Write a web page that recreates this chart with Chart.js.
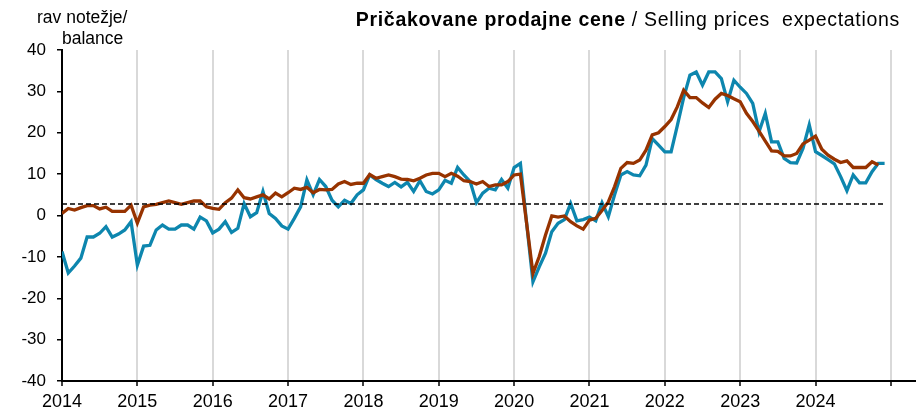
<!DOCTYPE html>
<html>
<head>
<meta charset="utf-8">
<script src="https://cdn.jsdelivr.net/npm/chart.js@4.4.1/dist/chart.umd.min.js"></script>
<style>
  body { margin: 0; background: #fff; font-family: "Liberation Sans", Arial, sans-serif; }
  #wrap { position: relative; width: 916px; height: 411px; }
  #title { position: absolute; right: 16px; top: 8px; font-size: 19.5px; letter-spacing: 0.7px; color: #000; white-space: pre; }
  .unit { position: absolute; font-size: 17.5px; line-height: 20px; color: #000; white-space: pre; }
</style>
</head>
<body>
<div id="wrap">
  <canvas id="myChart"></canvas>
  <div class="unit" style="left:37px; top:7px;">rav notežje/</div>
  <div class="unit" style="left:62px; top:28px;">balance</div>
  <div id="title"><b>Pričakovane prodajne cene</b> / Selling prices  expectations</div>
</div>
<script>
// months from Jan 2014, one value per month
const firstYear = 2014;
const yearTicks = [0, 12, 24, 36, 48, 60, 72, 84, 96, 108, 120, 132];
const yTicks = [-40, -30, -20, -10, 0, 10, 20, 30, 40];

// blue series (Jan 2014 - Dec 2024)
const blueSeries = [
  -8.7, -13.9, -12.2, -10.3, -5.2, -5.2, -4.3, -2.7, -5.2, -4.5, -3.5, -1.5,
  -12.0, -7.4, -7.2, -3.5, -2.3, -3.3, -3.3, -2.3, -2.3, -3.3, -0.4, -1.3,
  -4.2, -3.3, -1.5, -4.1, -3.1, 2.9, -0.3, 0.7, 5.8, 0.5, -0.7, -2.5,
  -3.3, -0.7, 2.1, 8.6, 5.0, 8.7, 7.0, 3.7, 2.1, 3.7, 2.9, 5.0,
  6.2, 9.8, 8.7, 7.8, 7.0, 8.0, 6.9, 8.0, 5.8, 8.4, 5.8, 5.2,
  6.2, 8.5, 7.8, 11.6, 9.8, 8.2, 3.1, 5.4, 6.6, 6.2, 8.7, 6.6,
  11.6, 12.6, -2.0, -16.0, -12.4, -9.1, -3.9, -1.9, -1.0, 2.9, -1.3, -1.0,
  -0.4, -1.3, 3.1, -0.3, 5.0, 9.8, 10.6, 9.8, 9.6, 12.2, 18.6, 17.0,
  15.4, 15.4, 21.8, 28.5, 33.9, 34.7, 31.5, 34.7, 34.7, 33.1, 27.5, 32.7,
  31.0, 29.5, 27.1, 20.2, 24.7, 17.8, 17.8, 13.8, 12.8, 12.7, 16.2, 21.9,
  15.4, 14.5, 13.5, 12.5, 9.4, 6.0, 9.8, 7.9, 7.9, 10.6, 12.6, 12.6
];

// brown series (Jan 2014 - Nov 2024)
const brownSeries = [
  0.5, 1.7, 1.3, 1.9, 2.4, 2.4, 1.6, 2.0, 1.0, 1.0, 1.0, 2.5,
  -1.8, 2.1, 2.5, 2.7, 3.1, 3.5, 3.1, 2.7, 3.1, 3.5, 3.5, 2.1,
  1.7, 1.5, 3.1, 4.2, 6.2, 4.3, 4.0, 4.5, 5.0, 4.0, 5.4, 4.5,
  5.5, 6.6, 6.3, 6.8, 5.5, 6.3, 6.2, 6.3, 7.6, 8.2, 7.5, 7.8,
  7.8, 9.9, 9.0, 9.4, 9.8, 9.4, 8.8, 8.7, 8.4, 9.0, 9.8, 10.2,
  10.2, 9.4, 10.2, 9.5, 8.4, 8.2, 7.6, 8.2, 7.0, 7.4, 7.4, 8.2,
  9.8, 10.0, -2.0, -14.0, -9.9, -4.7, -0.1, -0.4, -0.1, -1.5, -2.5, -3.3,
  -1.1, -0.7, 1.2, 3.3, 7.0, 11.4, 12.8, 12.6, 13.4, 15.8, 19.5, 20.0,
  21.5, 23.2, 26.3, 30.3, 28.5, 28.5, 27.2, 26.1, 28.1, 29.5, 29.0, 28.2,
  27.5, 24.7, 22.7, 20.4, 18.0, 15.6, 15.5, 14.4, 14.4, 15.0, 17.3, 18.2,
  19.2, 16.0, 14.6, 13.6, 12.8, 13.2, 11.6, 11.6, 11.6, 13.0, 12.2
];

// long-term average (dashed)
const averageLevel = 2.8;

const toPoints = arr => arr.map((v, i) => ({ x: i, y: v }));
const avgPoints = blueSeries.map((v, i) => ({ x: i, y: averageLevel }));

const ctx = document.getElementById('myChart');

let myChart = new Chart(ctx, {
  type: 'line',
  data: {
    datasets: [
      {
        data: avgPoints,
        borderColor: '#000',
        borderWidth: 1.5,
        borderDash: [5, 3],
        pointRadius: 0,
        order: 1
      },
      {
        data: toPoints(brownSeries),
        borderColor: '#973300',
        borderWidth: 3.3,
        pointRadius: 0,
        order: 2
      },
      {
        data: toPoints(blueSeries),
        borderColor: '#0d86ae',
        borderWidth: 3.3,
        pointRadius: 0,
        order: 3
      }
    ]
  },
  options: {
    responsive: true,
    maintainAspectRatio: false,
    animation: false,
    layout: { padding: { top: 50, right: 0, bottom: 0, left: 0 } },
    plugins: { legend: { display: false }, tooltip: { enabled: false } },
    scales: {
      x: {
        type: 'linear',
        min: 0,
        max: 136,
        afterBuildTicks: s => { s.ticks = yearTicks.map(v => ({ value: v })); },
        afterFit: s => { s.height = 30; },
        border: { color: '#000', width: 2 },
        grid: {
          color: '#d9d9d9',
          lineWidth: 2,
          tickColor: '#000',
          tickLength: 5,
          tickWidth: 1.5
        },
        ticks: {
          autoSkip: false,
          maxRotation: 0,
          padding: 5,
          color: '#000',
          font: { family: 'Liberation Sans', size: 18 },
          callback: v => (v < 132 ? String(firstYear + v / 12) : '')
        }
      },
      y: {
        min: -40,
        max: 40,
        afterBuildTicks: s => { s.ticks = yTicks.map(v => ({ value: v })); },
        afterFit: s => { s.width = 62; },
        border: { color: '#000', width: 2 },
        grid: {
          drawOnChartArea: false,
          color: '#000',
          tickLength: 5,
          lineWidth: 1.5
        },
        ticks: {
          padding: 11,
          color: '#000',
          font: { family: 'Liberation Sans', size: 17 }
        }
      }
    }
  }
});
</script>
</body>
</html>
